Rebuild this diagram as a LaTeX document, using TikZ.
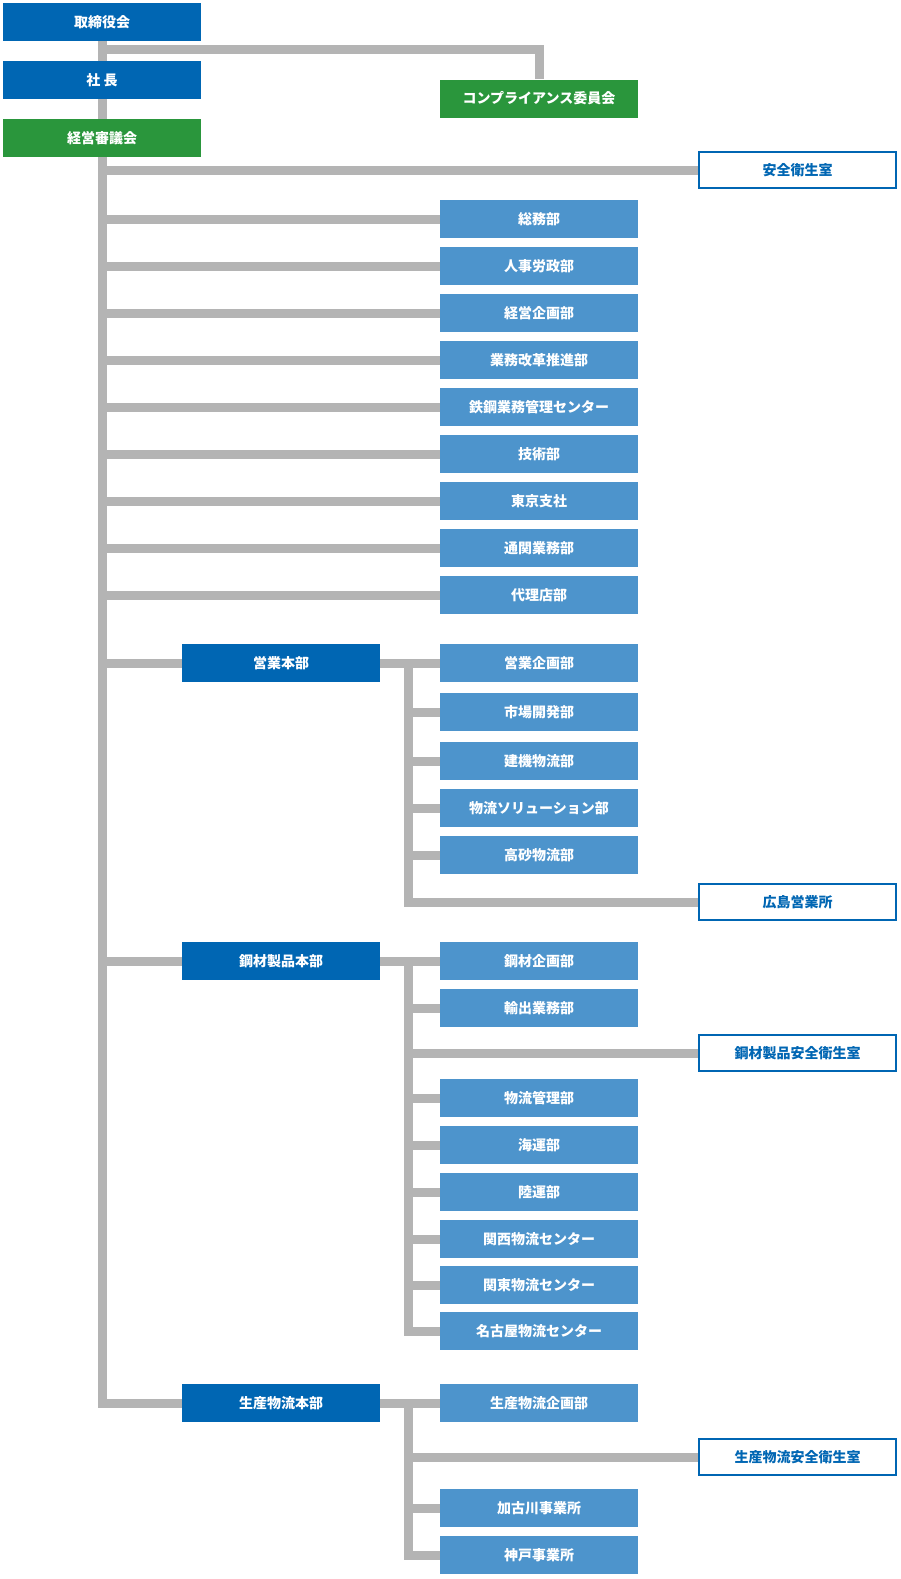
\documentclass[tikz,border=0pt]{standalone}
\usepackage{fontspec}
\usetikzlibrary{backgrounds}
\newfontfamily\jpfont{Noto Sans CJK JP}
\definecolor{mblue}{RGB}{0,102,179}
\definecolor{lblue}{RGB}{77,148,204}
\definecolor{mgreen}{RGB}{42,150,60}
\definecolor{mgray}{RGB}{180,180,180}

\begin{document}
\begin{tikzpicture}[x=1pt, y=-1pt,
    box/.style={rectangle, minimum width=198pt, minimum height=38pt, inner sep=0pt,
        font={\jpfont\bfseries\fontsize{14}{16}\selectfont}, text=white},
    topbox/.style={box, fill=mblue},
    greenbox/.style={box, fill=mgreen},
    deptbox/.style={box, fill=lblue},
    officebox/.style={box, fill=white, draw=mblue, line width=2pt, text=mblue,
        minimum width=197pt, minimum height=36pt},
    link/.style={draw=mgray, line width=9pt, line join=miter}]
    \useasboundingbox (0,0) rectangle (900,1579);

    % top of the chart
    \node[topbox] (board) at (102, 22) {取締役会};
    \node[topbox] (president) at (102, 80) {社 長};
    \node[greenbox] (council) at (102, 138) {経営審議会};
    \node[greenbox] (compliance) at (539, 98.5) {コンプライアンス委員会};
    \node[officebox] (safety) at (797.5, 170) {安全衛生室};
    \coordinate (boardjoint) at (102, 50);

    % departments
    \node[deptbox] (soumu) at (539, 219) {総務部};
    \node[deptbox] (jinji) at (539, 266) {人事労政部};
    \node[deptbox] (kikaku) at (539, 313) {経営企画部};
    \node[deptbox] (kaikaku) at (539, 360) {業務改革推進部};
    \node[deptbox] (tekko) at (539, 407) {鉄鋼業務管理センター};
    \node[deptbox] (gijutsu) at (539, 454) {技術部};
    \node[deptbox] (tokyo) at (539, 501) {東京支社};
    \node[deptbox] (tsukan) at (539, 548) {通関業務部};
    \node[deptbox] (dairiten) at (539, 595) {代理店部};

    % sales headquarters
    \node[topbox] (eigyohq) at (281, 663) {営業本部};
    \node[deptbox] (eigyo1) at (539, 663) {営業企画部};
    \node[deptbox] (eigyo2) at (539, 712) {市場開発部};
    \node[deptbox] (eigyo3) at (539, 761) {建機物流部};
    \node[deptbox] (eigyo4) at (539, 808) {物流ソリューション部};
    \node[deptbox] (eigyo5) at (539, 855) {高砂物流部};
    \node[officebox] (hiroshima) at (797.5, 902) {広島営業所};
    \coordinate (eigyojoint) at (408, 663);

    % steel products headquarters
    \node[topbox] (kozaihq) at (281, 961) {鋼材製品本部};
    \node[deptbox] (kozai1) at (539, 961) {鋼材企画部};
    \node[deptbox] (kozai2) at (539, 1008) {輸出業務部};
    \node[officebox] (kozaisafety) at (797.5, 1053) {鋼材製品安全衛生室};
    \node[deptbox] (kozai3) at (539, 1098) {物流管理部};
    \node[deptbox] (kozai4) at (539, 1145) {海運部};
    \node[deptbox] (kozai5) at (539, 1192) {陸運部};
    \node[deptbox] (kozai6) at (539, 1239) {関西物流センター};
    \node[deptbox] (kozai7) at (539, 1285) {関東物流センター};
    \node[deptbox] (kozai8) at (539, 1331) {名古屋物流センター};
    \coordinate (kozaijoint) at (408, 961);

    % production logistics headquarters
    \node[topbox] (seisanhq) at (281, 1403) {生産物流本部};
    \node[deptbox] (seisan1) at (539, 1403) {生産物流企画部};
    \node[officebox] (seisansafety) at (797.5, 1457) {生産物流安全衛生室};
    \node[deptbox] (seisan2) at (539, 1508) {加古川事業所};
    \node[deptbox] (seisan3) at (539, 1555) {神戸事業所};
    \coordinate (seisanjoint) at (408, 1403);

    \begin{scope}[on background layer]
        \draw[link] (board.south) |- (seisanhq.west);
        \draw[link] (boardjoint) -| (compliance.north);
        \foreach \n in {safety, soumu, jinji, kikaku, kaikaku, tekko, gijutsu, tokyo, tsukan, dairiten, eigyohq, kozaihq}
            \draw[link] (council |- \n) -- (\n.west);

        \draw[link] (eigyohq.east) -- (eigyo1.west);
        \draw[link] (eigyojoint) |- (hiroshima.west);
        \foreach \n in {eigyo2, eigyo3, eigyo4, eigyo5}
            \draw[link] (eigyojoint |- \n) -- (\n.west);

        \draw[link] (kozaihq.east) -- (kozai1.west);
        \draw[link] (kozaijoint) |- (kozai8.west);
        \foreach \n in {kozai2, kozaisafety, kozai3, kozai4, kozai5, kozai6, kozai7}
            \draw[link] (kozaijoint |- \n) -- (\n.west);

        \draw[link] (seisanhq.east) -- (seisan1.west);
        \draw[link] (seisanjoint) |- (seisan3.west);
        \foreach \n in {seisansafety, seisan2}
            \draw[link] (seisanjoint |- \n) -- (\n.west);
    \end{scope}
\end{tikzpicture}
\end{document}
